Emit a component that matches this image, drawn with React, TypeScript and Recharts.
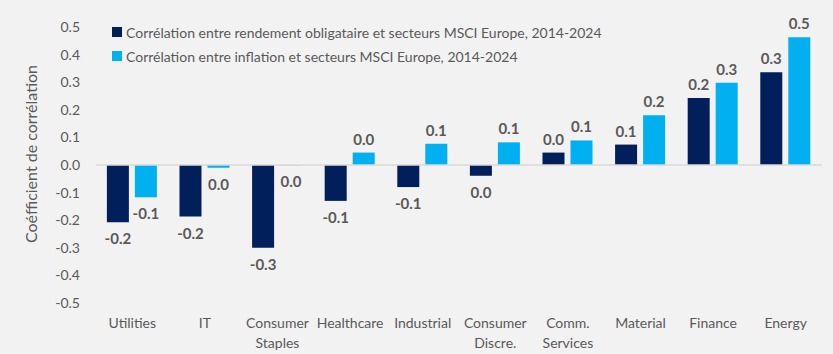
import React from "react";
import {
  BarChart,
  Bar,
  XAxis,
  YAxis,
  ReferenceLine,
  LabelList,
  Legend,
} from "recharts";

const categories = [
  "Utilities",
  "IT",
  "Consumer\nStaples",
  "Healthcare",
  "Industrial",
  "Consumer\nDiscre.",
  "Comm.\nServices",
  "Material",
  "Finance",
  "Energy",
];
const bondCorr = [-0.207, -0.187, -0.3, -0.13, -0.08, -0.039, 0.045, 0.074, 0.243, 0.336];
const inflationCorr = [-0.117, -0.01, -0.001, 0.045, 0.077, 0.082, 0.089, 0.18, 0.298, 0.463];
const yTicks = [0.5, 0.4, 0.3, 0.2, 0.1, 0, -0.1, -0.2, -0.3, -0.4, -0.5];

const bondName = "Corrélation entre rendement obligataire et secteurs MSCI Europe, 2014-2024";
const inflationName = "Corrélation entre inflation et secteurs MSCI Europe, 2014-2024";
const legendOrder = [bondName, inflationName];

const DARK = "#001F5B";
const LIGHT = "#00B0F0";
const TEXT = "#595959";
const FONT = "Lato, 'Liberation Sans', sans-serif";

const data = categories.map((c, i) => ({
  name: c,
  bond: bondCorr[i],
  inflation: inflationCorr[i],
}));

const fmt = (v: number) => (Math.abs(v) < 0.05 ? "0.0" : v.toFixed(1));

function ValueLabel(props: any) {
  const { x, y, width, height, value } = props;
  const top = Math.min(y, y + height);
  const bottom = Math.max(y, y + height);
  const cx = x + width / 2;
  const neg = value < 0;
  return (
    <text
      x={cx}
      y={neg ? bottom + 22 : top - 8}
      textAnchor="middle"
      fill={TEXT}
      fontSize={15}
      fontWeight="bold"
      fontFamily={FONT}
    >
      {fmt(value)}
    </text>
  );
}

function XTick(props: any) {
  const { x, y, payload } = props;
  const lines = String(payload.value).split("\n");
  return (
    <text x={x} y={y} textAnchor="middle" fill={TEXT} fontSize={14} fontFamily={FONT}>
      {lines.map((l, i) => (
        <tspan key={i} x={x} dy={i === 0 ? 17 : 20}>
          {l}
        </tspan>
      ))}
    </text>
  );
}

function LegendBox({ payload }: any) {
  const items = [...(payload || [])].sort(
    (a: any, b: any) => legendOrder.indexOf(a.value) - legendOrder.indexOf(b.value)
  );
  return (
    <div style={{ fontFamily: FONT, fontSize: 14, color: TEXT }}>
      {items.map((p: any) => (
        <div key={p.value} style={{ display: "flex", alignItems: "center", height: 24 }}>
          <span
            style={{
              display: "inline-block",
              width: 10,
              height: 10,
              background: p.color,
              marginRight: 4,
            }}
          />
          <span>{p.value}</span>
        </div>
      ))}
    </div>
  );
}

function YLabel(props: any) {
  const { viewBox } = props;
  const cy = viewBox.y + viewBox.height / 2 - 11;
  const cx = 30;
  return (
    <text
      x={cx}
      y={cy}
      transform={`rotate(-90, ${cx}, ${cy})`}
      textAnchor="middle"
      dominantBaseline="central"
      fill={TEXT}
      fontSize={16}
      fontFamily={FONT}
    >
      Coéfficient de corrélation
    </text>
  );
}

export default function App() {
  return (
    <div
      style={{
        position: "absolute",
        left: 0,
        top: 0,
        width: 833,
        height: 354,
        background: "#F2F2F2",
        fontFamily: FONT,
      }}
    >
      <BarChart
        width={833}
        height={354}
        data={data}
        margin={{ top: 27, right: 11, left: 0, bottom: 0 }}
        barCategoryGap="15%"
        barGap={6}
      >
        <XAxis
          dataKey="name"
          axisLine={false}
          tickLine={false}
          interval={0}
          height={51}
          tick={<XTick />}
        />
        <YAxis
          width={96}
          domain={[-0.5, 0.5]}
          ticks={yTicks}
          axisLine={false}
          tickLine={false}
          tickMargin={10}
          tickFormatter={(v: number) => v.toFixed(1)}
          tick={{ fill: TEXT, fontSize: 14, fontFamily: FONT }}
          label={<YLabel />}
        />
        <ReferenceLine y={0} stroke="#D9D9D9" strokeWidth={1.5} />
        <Legend
          layout="vertical"
          verticalAlign="middle"
          align="center"
          content={<LegendBox />}
          wrapperStyle={{ left: 112, top: 20, width: 600 }}
        />
        <Bar dataKey="bond" name={bondName} fill={DARK} isAnimationActive={false}>
          <LabelList dataKey="bond" content={<ValueLabel />} />
        </Bar>
        <Bar dataKey="inflation" name={inflationName} fill={LIGHT} isAnimationActive={false}>
          <LabelList dataKey="inflation" content={<ValueLabel />} />
        </Bar>
      </BarChart>
    </div>
  );
}
